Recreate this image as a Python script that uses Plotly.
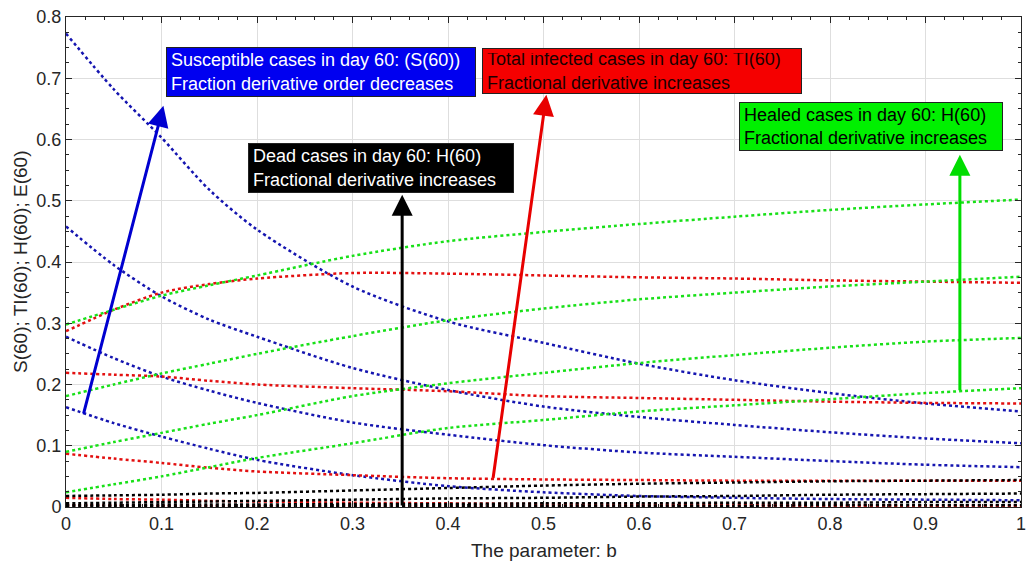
import plotly.graph_objects as go

# ---- data ----
b = [0, 0.05, 0.1, 0.15, 0.2, 0.3, 0.4, 0.5, 0.6, 0.7, 0.8, 0.9, 1.0]

S1 = [0.773, 0.682, 0.603, 0.518, 0.453, 0.360, 0.303, 0.268, 0.234, 0.207, 0.186, 0.169, 0.156]
S2 = [0.458, 0.395, 0.344, 0.306, 0.278, 0.227, 0.191, 0.164, 0.147, 0.134, 0.122, 0.112, 0.104]
S3 = [0.278, 0.243, 0.213, 0.190, 0.170, 0.138, 0.118, 0.101, 0.089, 0.082, 0.075, 0.069, 0.065]
S4 = [0.163, 0.137, 0.115, 0.095, 0.077, 0.052, 0.034, 0.024, 0.018, 0.015, 0.013, 0.012, 0.011]

TI1 = [0.287, 0.322, 0.350, 0.364, 0.373, 0.382, 0.381, 0.378, 0.375, 0.373, 0.370, 0.368, 0.366]
TI2 = [0.219, 0.216, 0.213, 0.206, 0.200, 0.194, 0.189, 0.181, 0.178, 0.175, 0.172, 0.170, 0.169]
TI3 = [0.087, 0.079, 0.072, 0.064, 0.058, 0.052, 0.047, 0.045, 0.044, 0.043, 0.043, 0.043, 0.043]
TI4 = [0.015, 0.013, 0.012, 0.010, 0.009, 0.007, 0.006, 0.005, 0.004, 0.004, 0.003, 0.003, 0.003]
TI5 = [0.003, 0.003, 0.002, 0.002, 0.002, 0.002, 0.001, 0.001, 0.001, 0.001, 0.001, 0.001, 0.001]

H1 = [0.298, 0.322, 0.345, 0.362, 0.378, 0.410, 0.434, 0.449, 0.462, 0.474, 0.485, 0.494, 0.502]
H2 = [0.181, 0.200, 0.218, 0.234, 0.250, 0.279, 0.305, 0.324, 0.339, 0.350, 0.360, 0.368, 0.376]
H3 = [0.090, 0.106, 0.121, 0.136, 0.150, 0.181, 0.202, 0.219, 0.235, 0.248, 0.260, 0.270, 0.276]
H4 = [0.024, 0.037, 0.050, 0.065, 0.080, 0.104, 0.129, 0.142, 0.156, 0.166, 0.176, 0.186, 0.194]

D1 = [0.018, 0.019, 0.020, 0.022, 0.023, 0.027, 0.031, 0.035, 0.038, 0.040, 0.042, 0.043, 0.044]
D2 = [0.006, 0.007, 0.008, 0.009, 0.010, 0.012, 0.014, 0.015, 0.017, 0.018, 0.020, 0.021, 0.022]
D3 = [0.003, 0.003, 0.004, 0.004, 0.004, 0.005, 0.005, 0.006, 0.006, 0.007, 0.007, 0.008, 0.008]
D4 = [0.001, 0.001, 0.001, 0.001, 0.001, 0.002, 0.002, 0.002, 0.002, 0.002, 0.003, 0.003, 0.003]

groups = [
    ("S", [S1, S2, S3, S4], "#1515b0"),
    ("TI", [TI1, TI2, TI3, TI4, TI5], "#e31010"),
    ("H", [H1, H2, H3, H4], "#18e018"),
    ("D", [D1, D2, D3, D4], "#000000"),
]

x_ticks = [0, 0.1, 0.2, 0.3, 0.4, 0.5, 0.6, 0.7, 0.8, 0.9, 1]
x_ticklabels = ["0", "0.1", "0.2", "0.3", "0.4", "0.5", "0.6", "0.7", "0.8", "0.9", "1"]
y_ticks = [0, 0.1, 0.2, 0.3, 0.4, 0.5, 0.6, 0.7, 0.8]
y_ticklabels = ["0", "0.1", "0.2", "0.3", "0.4", "0.5", "0.6", "0.7", "0.8"]

FONT = "Liberation Sans, Arial, sans-serif"

fig = go.Figure()
for name, series, color in groups:
    for i, ys in enumerate(series):
        fig.add_trace(go.Scatter(
            x=b, y=ys, mode="lines", name=f"{name}{i+1}",
            line=dict(color=color, width=2.5, dash="dot", shape="spline", smoothing=0.8),
            showlegend=False, hoverinfo="skip"))

# text boxes: (x, y top-left in data), width, height, bg, fg, text
boxes = [
    (0.1042, 0.7516, 310, 50, "#0000f0", "#ffffff",
     "Susceptible cases in day 60: (S(60))<br>Fraction derivative order decreases"),
    (0.1906, 0.5948, 266, 50, "#000000", "#ffffff",
     "Dead cases in day 60: H(60)<br>Fractional derivative increases"),
    (0.4354, 0.7500, 320, 46, "#f50000", "#1a0000",
     "Total infected cases in day 60: TI(60)<br>Fractional derivative increases"),
    (0.7052, 0.6618, 264, 49, "#00f000", "#000000",
     "Healed cases in day 60: H(60)<br>Fractional derivative increases"),
]
for x0, y0, w, h, bg, fg, txt in boxes:
    fig.add_annotation(
        x=x0, y=y0, xref="x", yref="y", xanchor="left", yanchor="top",
        text=txt, showarrow=False, align="left", valign="middle",
        width=w - 10, height=h - 10, borderpad=4, borderwidth=1,
        bordercolor="#222222", bgcolor=bg,
        font=dict(family=FONT, size=18, color=fg))

# arrows: tail (ax, ay) -> tip (x, y)
arrows = [
    (0.018, 0.150, 0.102, 0.655, "#0000d0"),
    (0.352, 0.000, 0.352, 0.510, "#000000"),
    (0.447, 0.045, 0.503, 0.673, "#e80000"),
    (0.936, 0.188, 0.936, 0.575, "#00dd00"),
]
for ax_, ay_, x_, y_, c in arrows:
    fig.add_annotation(
        x=x_, y=y_, ax=ax_, ay=ay_, xref="x", yref="y", axref="x", ayref="y",
        text="", showarrow=True, arrowhead=2, arrowsize=1.4, arrowwidth=3,
        arrowcolor=c, standoff=0, startstandoff=0)

# axis titles
fig.add_annotation(x=-0.0482, y=0.5, xref="paper", yref="paper", text="S(60); TI(60); H(60); E(60)",
                   textangle=-90, showarrow=False, xanchor="center", yanchor="middle",
                   font=dict(family=FONT, size=19, color="#262626"))
fig.add_annotation(x=0.5, y=-0.0878, xref="paper", yref="paper", text="The parameter: b",
                   showarrow=False, xanchor="center", yanchor="middle",
                   font=dict(family=FONT, size=19, color="#262626"))

axis_common = dict(
    showline=True, linecolor="#262626", linewidth=1, mirror="ticks",
    ticks="inside", ticklen=6, tickcolor="#262626",
    showgrid=True, gridcolor="#dedede", gridwidth=1, zeroline=False,
    tickfont=dict(family=FONT, size=18, color="#262626"),
    ticklabeloverflow="allow",
)
fig.update_xaxes(range=[0, 1], tickvals=x_ticks, ticktext=x_ticklabels,
                 minor=dict(ticks="inside", ticklen=3, dtick=0.02, tickcolor="#262626", showgrid=False),
                 **axis_common)
fig.update_yaxes(range=[0, 0.8], tickvals=y_ticks, ticktext=y_ticklabels,
                 minor=dict(ticks="inside", ticklen=3, dtick=0.025, tickcolor="#262626", showgrid=False),
                 **axis_common)

fig.update_layout(
    width=1028, height=564,
    margin=dict(l=66, r=7, t=17, b=57, autoexpand=False),
    paper_bgcolor="white", plot_bgcolor="white",
    font=dict(family=FONT),
)

fig.write_html("out.html")
